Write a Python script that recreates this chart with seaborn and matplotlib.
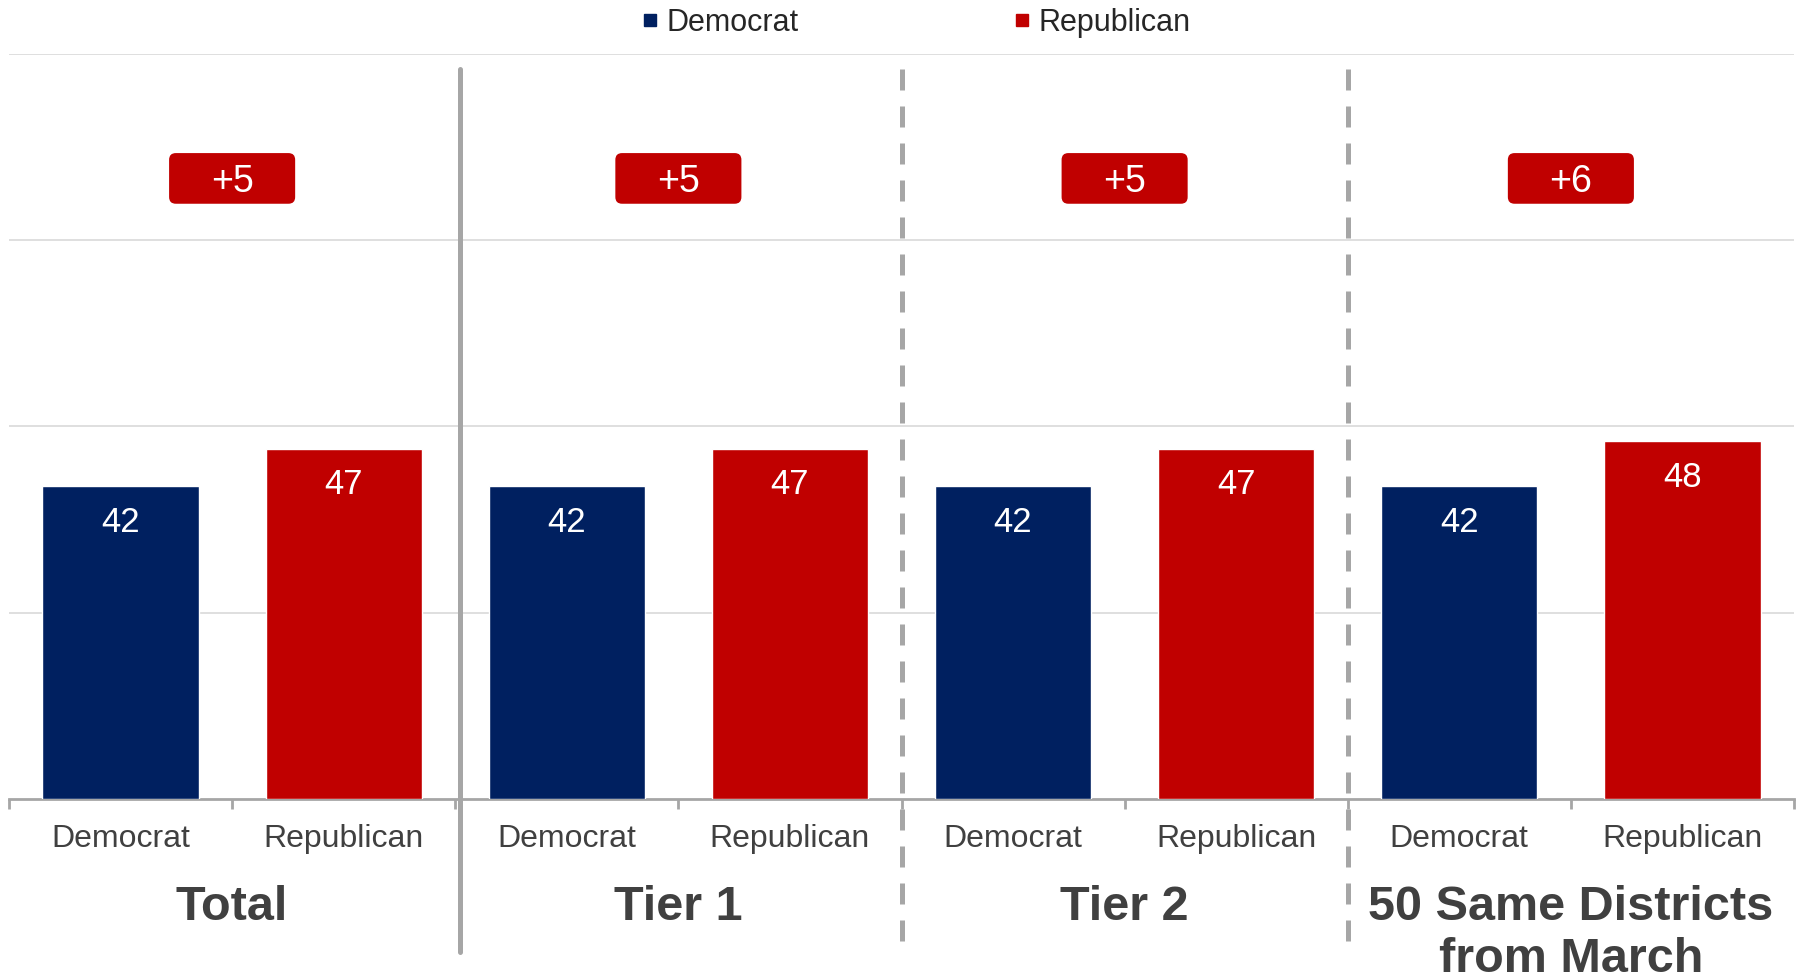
"""Generic ballot by district tier: Democrat vs Republican bars with margin badges."""

import matplotlib.pyplot as plt
import pandas as pd
import seaborn as sns
from matplotlib.lines import Line2D
from matplotlib.patches import FancyBboxPatch
from matplotlib.transforms import blended_transform_factory

GROUPS = ["Total", "Tier 1", "Tier 2", "50 Same Districts\nfrom March"]
PARTIES = ["Democrat", "Republican"]
DEM_VALUES = [42, 42, 42, 42]
REP_VALUES = [47, 47, 47, 48]
MARGINS = ["+5", "+5", "+5", "+6"]

NAVY = "#002060"
RED = "#C00000"
GRID = "#D9D9D9"
DIVIDER = "#A6A6A6"
TEXT = "#404040"

rows = []
for i, group in enumerate(GROUPS):
    rows.append({"slot": f"{i}-D", "party": "Democrat", "value": DEM_VALUES[i]})
    rows.append({"slot": f"{i}-R", "party": "Republican", "value": REP_VALUES[i]})
data = pd.DataFrame(rows)

sns.set_theme(style="white")
plt.rcParams["font.family"] = ["Liberation Sans", "DejaVu Sans"]

fig = plt.figure(figsize=(18.03, 9.8), dpi=100)
ax = fig.add_axes([9 / 1803, 1 - 799 / 980, 1785 / 1803, 745 / 980])

sns.barplot(
    data=data, x="slot", y="value", hue="party",
    palette={"Democrat": NAVY, "Republican": RED}, saturation=1,
    dodge=False, width=0.7, legend=False, ax=ax, zorder=3,
)

ax.set_ylim(0, 100)
ax.set_xlim(-0.5, len(data) - 0.5)
ax.set_yticks([25, 50, 75, 100])
ax.yaxis.grid(True, color=GRID, lw=1.2, zorder=0)
ax.set_axisbelow(True)
ax.tick_params(axis="y", left=False, labelleft=False)
for side in ["top", "right", "left"]:
    ax.spines[side].set_visible(False)
ax.spines["bottom"].set_color(DIVIDER)
ax.spines["bottom"].set_linewidth(2)
ax.set_xlabel("")
ax.set_ylabel("")

# party names under each bar, tick marks at every slot edge
ax.set_xticks(range(len(data)))
ax.set_xticklabels(data["party"], fontsize=23, color=TEXT)
ax.tick_params(axis="x", which="major", bottom=True, length=0, pad=18)
ax.set_xticks([i - 0.5 for i in range(len(data) + 1)], minor=True)
ax.tick_params(axis="x", which="minor", bottom=True, length=7, width=2,
               color=DIVIDER, direction="out")

# values inside the bars
for x, value in enumerate(data["value"]):
    ax.annotate(str(value), (x, value), xytext=(0, -26), textcoords="offset points",
                ha="center", va="center", color="white", fontsize=25)

# group dividers
trans = blended_transform_factory(ax.transData, ax.transAxes)
for k, edge in enumerate([1.5, 3.5, 5.5]):
    style = "-" if k == 0 else (0, (4.2, 3.2))
    shift = 0.02 if k == 0 else 0
    bottom = -0.205 if k == 0 else -0.2
    ax.add_line(Line2D([edge + shift, edge + shift], [0.98, bottom], transform=trans,
                       color=DIVIDER, lw=3.6, ls=style, clip_on=False, zorder=4))

# group names and margin badges
for i, (group, margin) in enumerate(zip(GROUPS, MARGINS)):
    center = 2 * i + 0.5
    ax.text(center, -0.115, group, transform=trans, ha="center", va="top",
            fontsize=35, fontweight="bold", color=TEXT, linespacing=1.2)
    w, h = 0.565, 6.8
    ax.add_patch(FancyBboxPatch((center - w / 2, 83.3 - h / 2), w, h,
                                boxstyle="round,pad=0,rounding_size=0.03",
                                mutation_aspect=30, fc=RED, ec="none", zorder=5))
    ax.text(center, 83.3, margin, ha="center", va="center_baseline", color="white",
            fontsize=27, zorder=6)

handles = [
    Line2D([], [], marker="s", ls="none", color=NAVY, markersize=9),
    Line2D([], [], marker="s", ls="none", color=RED, markersize=9),
]
fig.legend(handles, PARTIES, loc="center", bbox_to_anchor=(0.508, 1 - 23 / 980),
           ncol=2, frameon=False, fontsize=22, handlelength=0.6, handletextpad=0.25,
           columnspacing=7.0)

fig.savefig("out.png", dpi=100)
